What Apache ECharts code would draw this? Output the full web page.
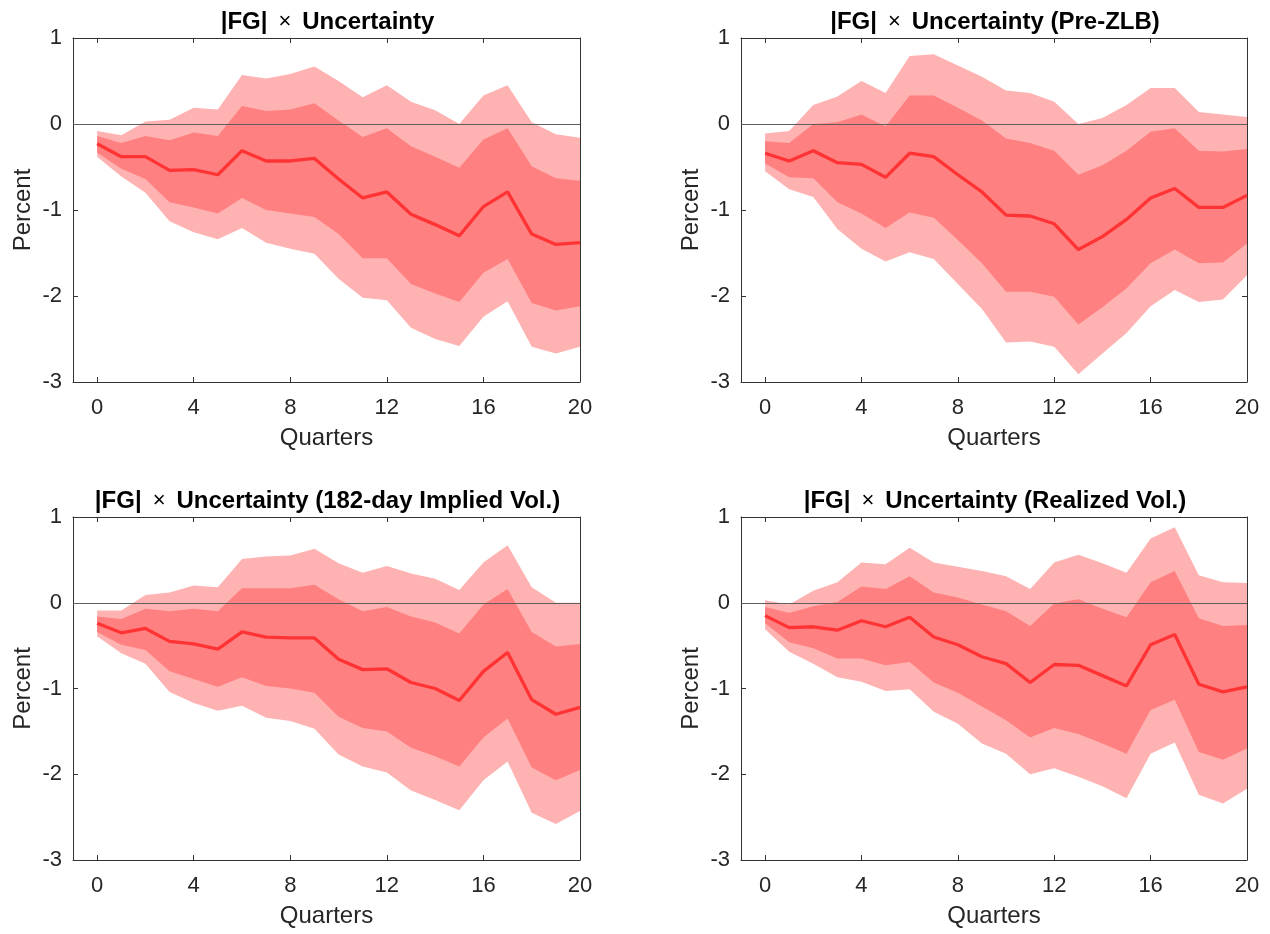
<!DOCTYPE html>
<html><head><meta charset="utf-8">
<script src="https://cdn.jsdelivr.net/npm/echarts@6/dist/echarts.min.js"></script>
<style>html,body{margin:0;padding:0;background:#fff}#c{width:1270px;height:934px}</style>
</head><body><div id="c"></div>
<script>
const quarters = [0,1,2,3,4,5,6,7,8,9,10,11,12,13,14,15,16,17,18,19,20];
const xTicks = [0,4,8,12,16,20];
const panelTitles = [
  ['Uncertainty'],
  ['Uncertainty (Pre-ZLB)'],
  ['Uncertainty (182-day Implied Vol.)'],
  ['Uncertainty (Realized Vol.)']
];

// Panel 1: |FG| x Uncertainty
const p1_hi90 = [-0.08,-0.13,0.03,0.05,0.19,0.17,0.57,0.53,0.58,0.67,0.50,0.31,0.45,0.26,0.16,0.00,0.33,0.45,0.02,-0.12,-0.16];
const p1_hi68 = [-0.14,-0.22,-0.14,-0.19,-0.10,-0.14,0.21,0.15,0.17,0.24,0.04,-0.15,-0.05,-0.26,-0.38,-0.51,-0.18,-0.05,-0.49,-0.63,-0.66];
const p1_med  = [-0.23,-0.38,-0.38,-0.54,-0.53,-0.59,-0.31,-0.43,-0.43,-0.40,-0.64,-0.86,-0.79,-1.05,-1.17,-1.30,-0.96,-0.79,-1.28,-1.40,-1.38];
const p1_lo68 = [-0.33,-0.52,-0.64,-0.91,-0.97,-1.04,-0.86,-1.00,-1.04,-1.08,-1.28,-1.56,-1.56,-1.86,-1.97,-2.07,-1.73,-1.57,-2.08,-2.17,-2.12];
const p1_lo90 = [-0.38,-0.61,-0.80,-1.13,-1.26,-1.34,-1.21,-1.38,-1.45,-1.51,-1.80,-2.02,-2.05,-2.37,-2.50,-2.58,-2.24,-2.06,-2.59,-2.67,-2.59];

// Panel 2: Pre-ZLB
const p2_hi90 = [-0.11,-0.08,0.22,0.32,0.50,0.36,0.79,0.81,0.68,0.55,0.39,0.36,0.26,0.00,0.07,0.22,0.42,0.42,0.14,0.11,0.08];
const p2_hi68 = [-0.20,-0.22,0.00,0.02,0.11,-0.03,0.33,0.33,0.19,0.04,-0.17,-0.22,-0.31,-0.59,-0.48,-0.31,-0.09,-0.05,-0.31,-0.32,-0.29];
const p2_med  = [-0.34,-0.43,-0.31,-0.45,-0.47,-0.62,-0.34,-0.38,-0.59,-0.79,-1.06,-1.07,-1.16,-1.46,-1.31,-1.11,-0.86,-0.75,-0.97,-0.97,-0.83];
const p2_lo68 = [-0.46,-0.62,-0.63,-0.91,-1.04,-1.21,-1.03,-1.09,-1.35,-1.62,-1.95,-1.95,-2.01,-2.33,-2.13,-1.91,-1.62,-1.46,-1.62,-1.61,-1.39];
const p2_lo90 = [-0.55,-0.76,-0.85,-1.22,-1.45,-1.60,-1.49,-1.57,-1.86,-2.15,-2.54,-2.53,-2.59,-2.91,-2.67,-2.43,-2.12,-1.93,-2.07,-2.04,-1.76];

// Panel 3: 182-day Implied Vol.
const p3_hi90 = [-0.09,-0.09,0.09,0.12,0.20,0.18,0.51,0.54,0.55,0.63,0.46,0.35,0.43,0.34,0.28,0.15,0.47,0.67,0.18,0.00,0.00];
const p3_hi68 = [-0.16,-0.19,-0.07,-0.10,-0.07,-0.10,0.17,0.17,0.17,0.21,0.04,-0.10,-0.05,-0.16,-0.23,-0.36,-0.02,0.16,-0.34,-0.51,-0.48];
const p3_med  = [-0.24,-0.35,-0.30,-0.45,-0.48,-0.54,-0.34,-0.40,-0.41,-0.41,-0.66,-0.78,-0.77,-0.93,-1.00,-1.14,-0.80,-0.58,-1.13,-1.30,-1.22];
const p3_lo68 = [-0.34,-0.49,-0.55,-0.80,-0.89,-0.98,-0.87,-0.97,-1.00,-1.05,-1.33,-1.46,-1.50,-1.69,-1.79,-1.91,-1.57,-1.35,-1.92,-2.07,-1.95];
const p3_lo90 = [-0.39,-0.59,-0.71,-1.04,-1.17,-1.26,-1.20,-1.34,-1.38,-1.47,-1.77,-1.91,-1.98,-2.19,-2.30,-2.42,-2.07,-1.85,-2.45,-2.58,-2.43];

// Panel 4: Realized Vol.
const p4_hi90 = [0.03,-0.02,0.14,0.24,0.47,0.45,0.64,0.47,0.42,0.37,0.31,0.16,0.47,0.56,0.46,0.35,0.75,0.88,0.32,0.24,0.23];
const p4_hi68 = [-0.05,-0.12,-0.04,0.01,0.19,0.16,0.31,0.12,0.06,-0.02,-0.10,-0.27,-0.01,0.04,-0.07,-0.17,0.24,0.37,-0.18,-0.27,-0.26];
const p4_med  = [-0.15,-0.29,-0.28,-0.32,-0.21,-0.28,-0.17,-0.40,-0.49,-0.63,-0.71,-0.93,-0.72,-0.73,-0.85,-0.97,-0.49,-0.37,-0.95,-1.04,-0.98];
const p4_lo68 = [-0.24,-0.46,-0.53,-0.65,-0.65,-0.73,-0.69,-0.93,-1.05,-1.21,-1.37,-1.57,-1.46,-1.53,-1.64,-1.76,-1.25,-1.13,-1.74,-1.83,-1.70];
const p4_lo90 = [-0.31,-0.57,-0.71,-0.87,-0.92,-1.03,-1.01,-1.27,-1.41,-1.64,-1.76,-2.00,-1.93,-2.03,-2.14,-2.28,-1.76,-1.63,-2.24,-2.34,-2.17];

const panels = [
  {hi90:p1_hi90, hi68:p1_hi68, med:p1_med, lo68:p1_lo68, lo90:p1_lo90},
  {hi90:p2_hi90, hi68:p2_hi68, med:p2_med, lo68:p2_lo68, lo90:p2_lo90},
  {hi90:p3_hi90, hi68:p3_hi68, med:p3_med, lo68:p3_lo68, lo90:p3_lo90},
  {hi90:p4_hi90, hi68:p4_hi68, med:p4_med, lo68:p4_lo68, lo90:p4_lo90}
];

const FONT = '"Liberation Sans", Arial, Helvetica, sans-serif';
const AX = '#333333';
const TXT = '#262626';
const grids = [
  {left:73, top:38, width:507, height:344},
  {left:741, top:38, width:506, height:344},
  {left:73, top:517, width:507, height:343},
  {left:741, top:517, width:506, height:343}
];

const xAxes = [], yAxes = [], series = [], titles = [];
grids.forEach((g, i) => {
  xAxes.push({
    type:'value', gridIndex:i, position:'bottom', min:-1, max:20,
    axisLine:{show:true, onZero:false, lineStyle:{color:AX, width:1}},
    axisTick:{show:true, inside:true, length:5, customValues:xTicks, lineStyle:{color:AX}},
    axisLabel:{show:true, customValues:xTicks, fontSize:22, color:TXT, fontFamily:FONT, margin:15},
    splitLine:{show:false},
    name:'Quarters', nameLocation:'middle', nameGap:44,
    nameTextStyle:{fontSize:24, color:TXT, fontFamily:FONT}
  });
  xAxes.push({
    type:'value', gridIndex:i, position:'top', min:-1, max:20,
    axisLine:{show:true, onZero:false, lineStyle:{color:AX, width:1}},
    axisTick:{show:true, inside:true, length:5, customValues:xTicks, lineStyle:{color:AX}},
    axisLabel:{show:false}, splitLine:{show:false}
  });
  yAxes.push({
    type:'value', gridIndex:i, position:'left', min:-3, max:1, interval:1,
    axisLine:{show:true, onZero:false, lineStyle:{color:AX, width:1}},
    axisTick:{show:true, inside:true, length:5, lineStyle:{color:AX}},
    axisLabel:{fontSize:22, color:TXT, fontFamily:FONT, margin:11},
    splitLine:{show:false},
    name:'Percent', nameLocation:'middle', nameGap:38, nameRotate:90,
    nameTextStyle:{fontSize:24, color:TXT, fontFamily:FONT}
  });
  yAxes.push({
    type:'value', gridIndex:i, position:'right', min:-3, max:1, interval:1,
    axisLine:{show:true, onZero:false, lineStyle:{color:AX, width:1}},
    axisTick:{show:true, inside:true, length:5, lineStyle:{color:AX}},
    axisLabel:{show:false}, splitLine:{show:false}
  });

  const p = panels[i];
  series.push({
    type:'custom', xAxisIndex:2*i, yAxisIndex:2*i, data:[[0,0]], silent:true, z:1,
    renderItem:(params, api) => {
      const poly = (hi, lo) => {
        const pts = [];
        for (let k = 0; k < quarters.length; k++) pts.push(api.coord([quarters[k], hi[k]]));
        for (let k = quarters.length - 1; k >= 0; k--) pts.push(api.coord([quarters[k], lo[k]]));
        return pts;
      };
      return {type:'group', children:[
        {type:'polygon', shape:{points:poly(p.hi90, p.lo90)}, style:{fill:'#ffb2b2'}},
        {type:'polygon', shape:{points:poly(p.hi68, p.lo68)}, style:{fill:'#ff8080'}}
      ]};
    }
  });
  series.push({
    type:'line', xAxisIndex:2*i, yAxisIndex:2*i, z:3,
    data: quarters.map((q, k) => [q, p.med[k]]),
    showSymbol:false, symbol:'none', silent:true,
    lineStyle:{color:'#ff3333', width:3.3}, itemStyle:{color:'#ff3333'},
    markLine:{silent:true, symbol:['none','none'], label:{show:false},
      lineStyle:{color:'#5e5e5e', width:1.2, type:'solid'},
      data:[{yAxis:0}], animation:false}
  });

  const cx = g.left + g.width / 2 - 4;
  titles.push({
    text:'{b||FG|} {n|×} {b|' + panelTitles[i][0] + '}',
    left:cx, textAlign:'center', top:g.top - 33,
    textStyle:{rich:{
      b:{fontSize:24, fontWeight:'bold', color:'#000', fontFamily:FONT},
      n:{fontSize:22, fontWeight:'normal', color:'#000', fontFamily:FONT, padding:[0,6]}
    }}
  });
});

const chart = echarts.init(document.getElementById('c'), null, {renderer:'canvas'});
chart.setOption({
  animation:false,
  backgroundColor:'#ffffff',
  title:titles,
  grid:grids.map(g => Object.assign({containLabel:false}, g)),
  xAxis:xAxes, yAxis:yAxes, series:series
});
</script></body></html>
